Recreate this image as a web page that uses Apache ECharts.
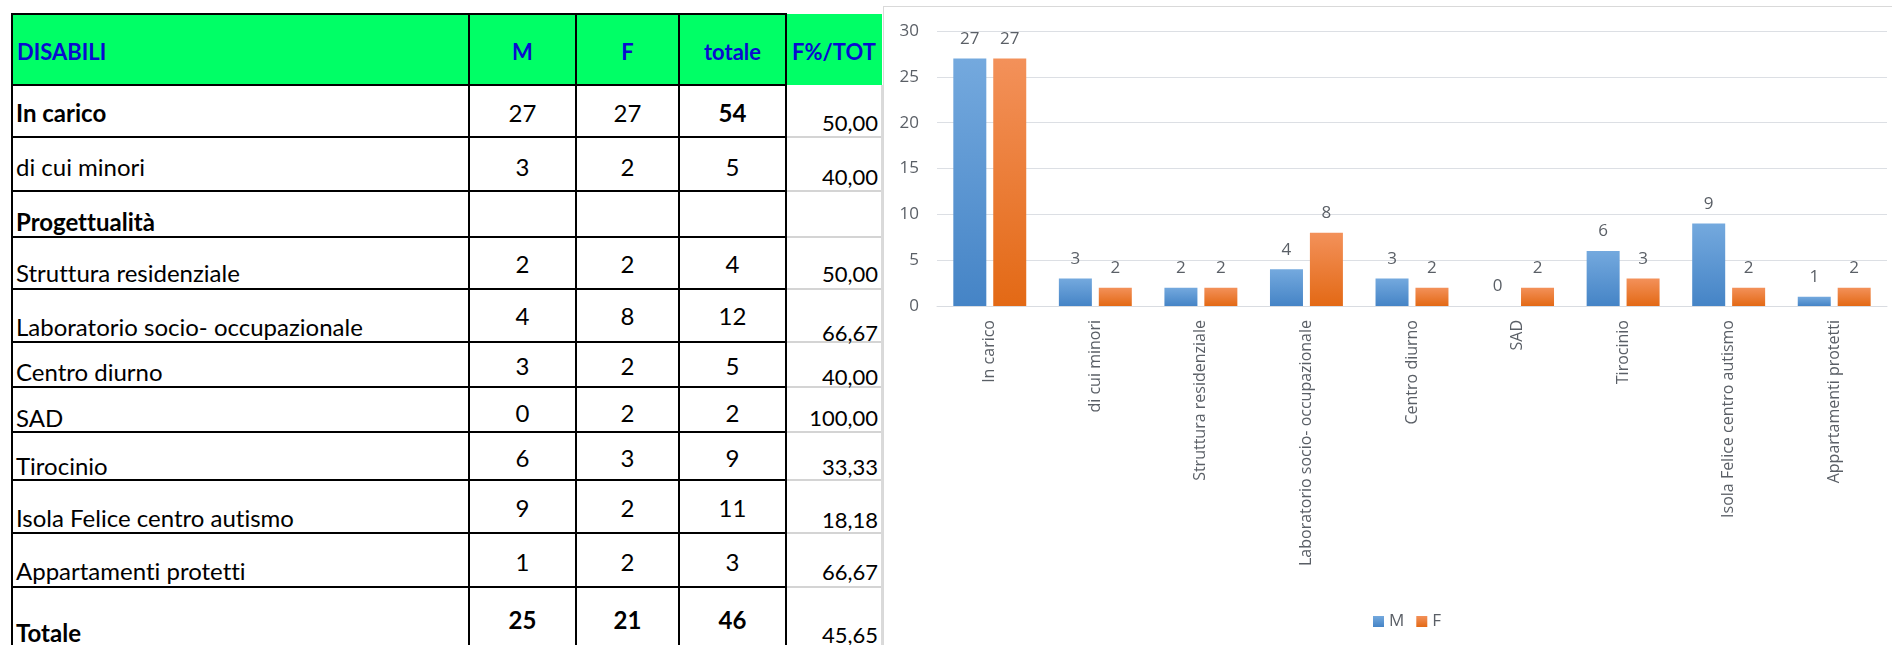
<!DOCTYPE html>
<html>
<head>
<meta charset="utf-8">
<script src="https://cdn.jsdelivr.net/npm/echarts@6/dist/echarts.min.js"></script>
<style>
  html, body { margin:0; padding:0; background:#fff; width:1892px; height:645px; overflow:hidden; }
  #table { position:absolute; left:0; top:0; width:884px; height:645px; font-family:Lato, "Open Sans", sans-serif; color:#000; }
  .ln { position:absolute; }
  .tx { position:absolute; white-space:nowrap; font-size:24px; height:28px; line-height:28px; font-variant-ligatures:none; }
  .hd { font-size:22px; }
  #chart { position:absolute; left:883px; top:6px; width:1012px; height:645px; border:1px solid #d9d9d9; box-sizing:border-box; }
</style>
</head>
<body>
<div id="table"></div>
<div id="chart"></div>
<script>
// ---------- chart data ----------
const categories = ['In carico','di cui minori','Struttura residenziale','Laboratorio socio- occupazionale','Centro diurno','SAD','Tirocinio','Isola Felice centro autismo','Appartamenti protetti'];
const valuesM = [27, 3, 2, 4, 3, 0, 6, 9, 1];
const valuesF = [27, 2, 2, 8, 2, 2, 3, 2, 2];
const seriesNames = ['M', 'F'];
const yTicks = [0, 5, 10, 15, 20, 25, 30];

// ---------- table data ----------
const tableHeader = ['DISABILI', 'M', 'F', 'totale', 'F%/TOT'];
const tableLabels = ['In carico','di cui minori','Progettualità','Struttura residenziale','Laboratorio socio- occupazionale','Centro diurno','SAD','Tirocinio','Isola Felice centro autismo','Appartamenti protetti','Totale'];
const tableM   = ['27','3','','2','4','3','0','6','9','1','25'];
const tableF   = ['27','2','','2','8','2','2','3','2','2','21'];
const tableTot = ['54','5','','4','12','5','2','9','11','3','46'];
const tablePct = ['50,00','40,00','','50,00','66,67','40,00','100,00','33,33','18,18','66,67','45,65'];

// ---------- table layout (positions/styles, not data) ----------
const rowEdges = [14, 85, 137, 191, 237, 289, 342, 387, 432, 480, 533, 587, 660];
const labelY = [113, 167, 222, 273, 327, 372, 418, 466, 518, 571, 633];
const numY   = [113, 167, 214, 264, 316, 366, 413, 458, 508, 562, 620];
const pctY   = [123, 177, 222, 274, 333, 377, 418, 467, 520, 572, 635];
const colEdges = [12, 469, 576, 679, 786, 882];
const boldLabelRows = [0, 2, 10];
const boldNumRows = [10];
const HALF = 14;

const T = document.getElementById('table');
function add(cls, css, text) {
  const d = document.createElement('div');
  d.className = cls;
  Object.assign(d.style, css);
  if (text !== undefined) d.textContent = text;
  T.appendChild(d);
  return d;
}
// green header
add('ln', {left:'12px', top:'14px', width:(882-12)+'px', height:(85-14)+'px', background:'#00ff66'});
// gray lines in F%/TOT column
for (let i = 2; i < rowEdges.length - 1; i++) {
  add('ln', {left:'786px', top:(rowEdges[i]-1)+'px', width:'96px', height:'2px', background:'#d4d4d4'});
}
add('ln', {left:'881px', top:'85px', width:'2px', height:'560px', background:'#dadada'});
// black horizontal lines
for (let i = 0; i < rowEdges.length - 1; i++) {
  add('ln', {left:'11px', top:(rowEdges[i]-1)+'px', width:(786-11+1)+'px', height:'2px', background:'#000'});
}
// black vertical lines
for (let i = 0; i < colEdges.length - 1; i++) {
  add('ln', {left:(colEdges[i]-1)+'px', top:'13px', width:'2px', height:'640px', background:'#000'});
}
// header text
const hdrY = 52;
add('tx hd', {left:'17px', top:(hdrY-HALF)+'px', fontWeight:'bold', color:'#0a0ad0'}, tableHeader[0]);
for (let c = 1; c < 5; c++) {
  const l = colEdges[c], r = colEdges[c+1];
  add('tx hd', {left:l+'px', width:(r-l)+'px', textAlign:'center', top:(hdrY-HALF)+'px', fontWeight:'bold', color:'#0a0ad0'}, tableHeader[c]);
}
// body
const numCols = [tableM, tableF, tableTot];
for (let r = 0; r < tableLabels.length; r++) {
  add('tx', {left:'16px', top:(labelY[r]-HALF)+'px', fontWeight: boldLabelRows.includes(r) ? 'bold' : 'normal'}, tableLabels[r]);
  for (let c = 0; c < 3; c++) {
    const l = colEdges[c+1], rr = colEdges[c+2];
    const bold = boldNumRows.includes(r) || (r === 0 && c === 2);
    add('tx', {left:l+'px', width:(rr-l)+'px', textAlign:'center', top:(numY[r]-HALF)+'px', fontWeight: bold ? 'bold' : 'normal'}, numCols[c][r]);
  }
  add('tx', {left:'786px', width:'92px', textAlign:'right', top:(pctY[r]-HALF)+'px', fontSize:'22px'}, tablePct[r]);
}

// ---------- chart ----------
const chart = echarts.init(document.getElementById('chart'), null, {renderer:'canvas'});
const txtColor = '#5a5f66';
const font = '"Open Sans", sans-serif';
function grad(top, bottom) {
  return {type:'linear', x:0, y:0, x2:0, y2:1, colorStops:[{offset:0, color:top},{offset:1, color:bottom}]};
}
chart.setOption({
  animation: false,
  textStyle: {fontFamily: font},
  grid: {left:53, right:7, top:24, bottom:344, containLabel:false},
  legend: {
    data: seriesNames, left:484, top:601, itemWidth:11, itemHeight:11, itemGap:12, icon:'rect',
    textStyle: {color: txtColor, fontSize:17, fontFamily: font}
  },
  xAxis: {
    type:'category', data: categories,
    axisTick:{show:false},
    axisLine:{lineStyle:{color:'#d9dce1', width:1}},
    axisLabel:{interval:0, rotate:90, margin:14, color: txtColor, fontSize:16, fontFamily: font}
  },
  yAxis: {
    type:'value', min: yTicks[0], max: yTicks[yTicks.length-1], interval: yTicks[1]-yTicks[0],
    axisLine:{show:false}, axisTick:{show:false},
    splitLine:{lineStyle:{color:'#dcdfe4', width:1}},
    axisLabel:{margin:18, color: txtColor, fontSize:17, fontFamily: font}
  },
  series: [
    {
      name: seriesNames[0], type:'bar', data: valuesM, barWidth:33, barGap:'21%',
      itemStyle:{color: grad('#74a9de', '#4584c6')},
      label:{show:true, position:'top', distance:11, color: txtColor, fontSize:17, fontFamily: font}
    },
    {
      name: seriesNames[1], type:'bar', data: valuesF, barWidth:33, barGap:'21%',
      itemStyle:{color: grad('#f3915a', '#e36915')},
      label:{show:true, position:'top', distance:11, color: txtColor, fontSize:17, fontFamily: font}
    }
  ]
});
</script>
</body>
</html>
